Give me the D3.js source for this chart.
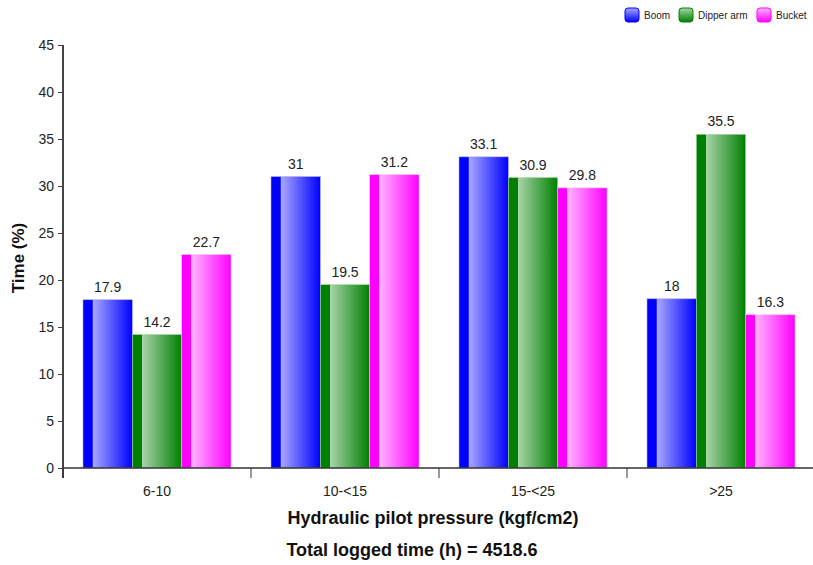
<!DOCTYPE html>
<html><head><meta charset="utf-8">
<script src="https://cdn.jsdelivr.net/npm/d3@7"></script>
<style>body{margin:0;background:#fff;}svg{display:block;font-family:Arial,"Liberation Sans",sans-serif;}</style>
</head><body><svg id="c" width="813" height="565"></svg>
<script>
const categories = ["6-10", "10-<15", "15-<25", ">25"];
const seriesNames = ["Boom", "Dipper arm", "Bucket"];
const boom = [17.9, 31, 33.1, 18];
const dipper = [14.2, 19.5, 30.9, 35.5];
const bucket = [22.7, 31.2, 29.8, 16.3];
const yTicks = [0, 5, 10, 15, 20, 25, 30, 35, 40, 45];
const baseColors = ["#0000ff", "#008000", "#ff00ff"];
const lightColors = ["#a8a8ff", "#a8d4a8", "#ffb4ff"];
const xTitle = "Hydraulic pilot pressure (kgf/cm2)";
const subTitle = "Total logged time (h) = 4518.6";
const yTitle = "Time (%)";

const values = [boom, dipper, bucket];
const svg = d3.select("#c");
const x0 = d3.scaleBand().domain(categories).range([63, 815]).paddingInner(0).paddingOuter(0);
const x1 = d3.scaleBand().domain(seriesNames).range([20, x0.bandwidth() - 20]).padding(0);
const y = d3.scaleLinear().domain([0, 45]).range([468, 45]);

const defs = svg.append("defs");
seriesNames.forEach((s, i) => {
  const g = defs.append("linearGradient").attr("id", "g" + i).attr("x1", "0").attr("x2", "1").attr("y1", "0").attr("y2", "0");
  g.append("stop").attr("offset", "0").attr("stop-color", baseColors[i]);
  g.append("stop").attr("offset", "0.19").attr("stop-color", baseColors[i]);
  g.append("stop").attr("offset", "0.2").attr("stop-color", lightColors[i]);
  g.append("stop").attr("offset", "1").attr("stop-color", baseColors[i]);
  const l = defs.append("linearGradient").attr("id", "l" + i).attr("x1", "0").attr("x2", "0").attr("y1", "0").attr("y2", "1");
  l.append("stop").attr("offset", "0").attr("stop-color", lightColors[i]);
  l.append("stop").attr("offset", "1").attr("stop-color", baseColors[i]);
});

// bars
categories.forEach((c, ci) => {
  const g = svg.append("g").attr("transform", `translate(${x0(c)},0)`);
  seriesNames.forEach((s, si) => {
    const v = values[si][ci];
    g.append("rect").attr("x", x1(s)).attr("y", y(v)).attr("width", x1.bandwidth()).attr("height", y(0) - y(v))
      .attr("fill", `url(#g${si})`).attr("stroke", lightColors[si]).attr("stroke-width", 0.6);
    g.append("text").attr("x", x1(s) + x1.bandwidth() / 2).attr("y", y(v) - 8).attr("text-anchor", "middle")
      .attr("font-size", 14).attr("fill", "#222").text(v);
  });
});

// y axis
const ya = svg.append("g").attr("transform", "translate(63,0)")
  .call(d3.axisLeft(y).tickValues(yTicks).tickSize(5).tickSizeOuter(0).tickPadding(4));
ya.select(".domain").attr("stroke", "#444").attr("stroke-width", 2).attr("d", "M0,45V478");
ya.selectAll(".tick line").attr("stroke", "#444");
ya.selectAll(".tick text").attr("font-size", 14).attr("fill", "#222").attr("font-family", "Arial, Liberation Sans, sans-serif");

// x axis
const xa = svg.append("g").attr("transform", "translate(0,468)")
  .call(d3.axisBottom(x0).tickSize(0).tickPadding(18));
xa.select(".domain").attr("stroke", "#333").attr("stroke-width", 1.5).attr("d", "M63,0H813");
xa.selectAll(".tick text").attr("font-size", 14).attr("fill", "#222").attr("font-family", "Arial, Liberation Sans, sans-serif");
categories.slice(1).forEach(c => {
  xa.append("line").attr("x1", x0(c)).attr("x2", x0(c)).attr("y1", 0).attr("y2", 10).attr("stroke", "#333");
});
xa.append("line").attr("x1", 63).attr("x2", 63).attr("y1", 0).attr("y2", 10).attr("stroke", "#333");

// titles
svg.append("text").attr("x", 433).attr("y", 524).attr("text-anchor", "middle").attr("font-size", 18).attr("font-weight", "bold").attr("fill", "#111").text(xTitle);
svg.append("text").attr("x", 412).attr("y", 556).attr("text-anchor", "middle").attr("font-size", 18).attr("font-weight", "bold").attr("fill", "#111").text(subTitle);
svg.append("text").attr("transform", "translate(24,258) rotate(-90)").attr("text-anchor", "middle").attr("font-size", 17).attr("font-weight", "bold").attr("fill", "#111").text(yTitle);

// legend
const legX = [625, 679, 757];
seriesNames.forEach((s, i) => {
  const g = svg.append("g").attr("transform", `translate(${legX[i]},8)`);
  g.append("rect").attr("x", 0).attr("y", 0).attr("width", 14).attr("height", 14).attr("rx", 3)
    .attr("fill", `url(#l${i})`).attr("stroke", baseColors[i]).attr("stroke-width", 1);
  g.append("text").attr("x", 19).attr("y", 11).attr("font-size", 10).attr("fill", "#222").text(s);
});
</script></body></html>
